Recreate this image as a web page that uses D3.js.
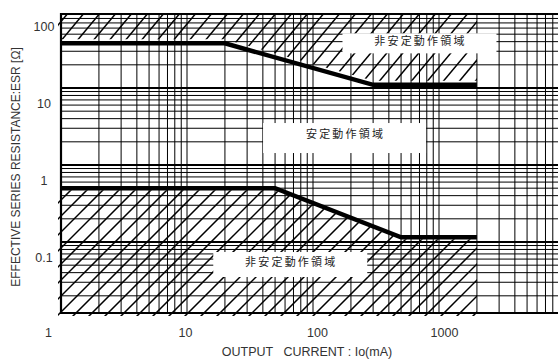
<!DOCTYPE html>
<html>
<head>
<meta charset="utf-8">
<script src="https://cdn.jsdelivr.net/npm/d3@7"></script>
<style>
  body { margin: 0; background: #fff; }
  svg { display: block; }
</style>
</head>
<body>
<div id="chart"></div>
<script>
// axis labels
const xTicks = [1, 10, 100, 1000];
const yTicks = [0.1, 1, 10, 100];
const xLabelShift = [-13, -2, 4, 5];

// upper stability limit (ESR vs output current)
const upperCurrent = [1, 20, 300, 2000];
const upperEsr = [38, 38, 11, 11];

// lower stability limit
const lowerCurrent = [1, 50, 500, 2000];
const lowerEsr = [0.5, 0.5, 0.115, 0.115];

// region labels, placed in data coordinates
const regionText = ['非安定動作領域', '安定動作領域', '非安定動作領域'];
const regionCurrent = [700, 178, 66];
const regionEsr = [38, 2.24, 0.051];
const regionBox = [[154, 20], [163, 30], [154, 25]];

const W = 558, H = 360,
      plot = {left: 61, top: 14, bottom: 313, right: 558};

const svg = d3.select('#chart').append('svg')
  .attr('width', W)
  .attr('height', H);

svg.append('rect').attr('width', W).attr('height', H).attr('fill', '#fff');

const x = d3.scaleLog().domain([1, 10000]).range([61, 565]),
      y = d3.scaleLog().domain([0.01, 100]).range([319, 11]);

const defs = svg.append('defs');
defs.append('clipPath').attr('id', 'plotclip')
  .append('rect')
    .attr('x', plot.left).attr('y', plot.top)
    .attr('width', plot.right - plot.left).attr('height', plot.bottom - plot.top);

const grid = svg.append('g').attr('clip-path', 'url(#plotclip)');

// log grid
const isDecade = v => Math.abs(Math.log10(v) - Math.round(Math.log10(v))) < 1e-9;
grid.selectAll('line.vx')
  .data(x.ticks())
  .enter().append('line')
    .attr('class', 'vx')
    .attr('x1', d => x(d)).attr('x2', d => x(d))
    .attr('y1', plot.top).attr('y2', plot.bottom)
    .attr('stroke', '#000')
    .attr('stroke-width', 1);

grid.selectAll('line.hy')
  .data(y.ticks())
  .enter().append('line')
    .attr('class', 'hy')
    .attr('y1', d => y(d)).attr('y2', d => y(d))
    .attr('x1', plot.left).attr('x2', plot.right)
    .attr('stroke', '#000')
    .attr('stroke-width', d => isDecade(d) ? 2 : 1);

// hatch regions
const upperPts = upperCurrent.map((c, i) => [x(c), y(upperEsr[i]) - 4]);
upperPts[0][0] = plot.left - 3;
const upperPoly = [[plot.left - 3, plot.top]].concat(upperPts)
  .concat([[x(2000), plot.top]]);

const lowerPts = lowerCurrent.map((c, i) => [x(c), y(lowerEsr[i]) + 2]);
lowerPts[0][0] = plot.left - 3;
const lowerPoly = lowerPts.concat([[x(2000), plot.bottom + 3], [plot.left - 3, plot.bottom + 3]]);

defs.append('clipPath').attr('id', 'hatchUp')
  .append('polygon').attr('points', upperPoly.map(p => p.join(',')).join(' '));
defs.append('clipPath').attr('id', 'hatchLow')
  .append('polygon').attr('points', lowerPoly.map(p => p.join(',')).join(' '));

function hatch(id, slope, phase) {
  const g = svg.append('g').attr('clip-path', 'url(#' + id + ')');
  const offs = d3.range(-600, 700, 16).map(o => o + phase);
  g.selectAll('line')
    .data(offs)
    .enter().append('line')
      .attr('x1', d => d).attr('y1', 330)
      .attr('x2', d => d + 330 / slope).attr('y2', 0)
      .attr('stroke', '#000')
      .attr('stroke-width', 1.5);
}
hatch('hatchUp', 1.2, 4);
hatch('hatchLow', 1, 3);

// label boxes
const labels = svg.append('g');
regionText.forEach((t, i) => {
  const cx = x(regionCurrent[i]), cy = y(regionEsr[i]);
  labels.append('rect')
    .attr('x', cx - regionBox[i][0] / 2)
    .attr('y', cy - regionBox[i][1] / 2)
    .attr('width', regionBox[i][0])
    .attr('height', regionBox[i][1])
    .attr('fill', '#fff');
  labels.append('text')
    .attr('x', cx + 1)
    .attr('y', cy - (i == 1 ? 4 : 2))
    .attr('dy', '0.36em')
    .attr('text-anchor', 'middle')
    .style('font-family', '"Noto Sans CJK JP", sans-serif')
    .style('font-size', '11px')
    .style('letter-spacing', '2.2px')
    .attr('fill', '#222')
    .text(t);
});

// limit curves
const line = d3.line().x(d => x(d[0])).y(d => y(d[1]));
svg.append('path')
  .datum(upperCurrent.map((c, i) => [c, upperEsr[i]]))
  .attr('d', line)
  .attr('fill', 'none')
  .attr('stroke', '#000')
  .attr('stroke-width', 4.5);
svg.append('path')
  .datum(lowerCurrent.map((c, i) => [c, lowerEsr[i]]))
  .attr('d', line)
  .attr('fill', 'none')
  .attr('stroke', '#000')
  .attr('stroke-width', 4.5);

// frame
svg.append('path')
  .attr('d', `M${plot.right},${plot.top}H${plot.left}V${plot.bottom}H${plot.right}`)
  .attr('fill', 'none')
  .attr('stroke', '#000')
  .attr('stroke-width', 2.2);

// axes
const xAxis = d3.axisBottom(x).tickValues(xTicks).tickSize(0).tickPadding(15)
  .tickFormat(d3.format('d'));
const gx = svg.append('g')
  .attr('transform', 'translate(0,' + plot.bottom + ')')
  .call(xAxis);
gx.select('.domain').remove();
gx.selectAll('text')
  .style('font-family', '"Liberation Sans", Arial, sans-serif')
  .style('font-size', '12.5px')
  .attr('fill', '#333')
  .attr('dx', (d, i) => xLabelShift[i]);

const yAxis = d3.axisLeft(y).tickValues(yTicks).tickSize(0)
  .tickFormat(d => d < 1 ? d3.format('.1f')(d) : d3.format('d')(d));
const gy = svg.append('g')
  .attr('transform', 'translate(' + plot.left + ',0)')
  .call(yAxis);
gy.select('.domain').remove();
gy.selectAll('text')
  .attr('x', -17)
  .attr('dy', '1.55em')
  .attr('text-anchor', 'middle')
  .style('font-family', '"Liberation Sans", Arial, sans-serif')
  .style('font-size', '12.5px')
  .attr('fill', '#333');

// axis titles
svg.append('text')
  .attr('x', 307)
  .attr('y', 356)
  .attr('text-anchor', 'middle')
  .attr('xml:space', 'preserve')
  .style('font-family', '"Liberation Sans", Arial, sans-serif')
  .style('font-size', '12.5px')
  .attr('fill', '#333')
  .text('OUTPUT   CURRENT : Io(mA)');

svg.append('text')
  .attr('transform', 'rotate(-90)')
  .attr('x', -167)
  .attr('y', 20)
  .attr('text-anchor', 'middle')
  .style('font-family', '"Liberation Sans", Arial, sans-serif')
  .style('font-size', '12px')
  .attr('fill', '#333')
  .text('EFFECTIVE SERIES RESISTANCE:ESR [Ω]');
</script>
</body>
</html>
